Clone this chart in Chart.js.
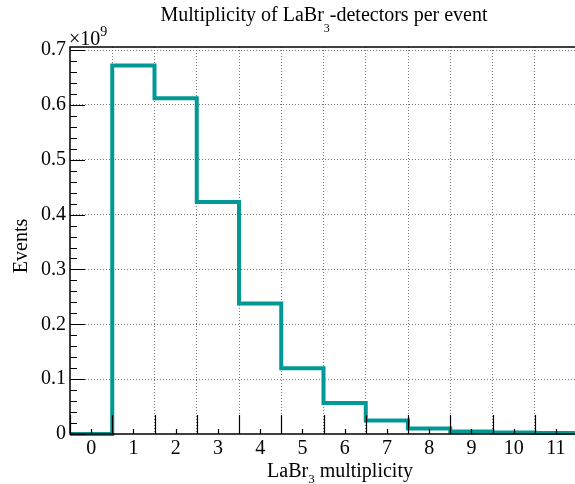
<!DOCTYPE html>
<html>
<head>
<meta charset="utf-8">
<script src="https://cdn.jsdelivr.net/npm/chart.js@4"></script>
<style>
    html, body { margin: 0; padding: 0; background: #fff; overflow: hidden; }
    #wrap { width: 575px; height: 484px; overflow: hidden; }
</style>
</head>
<body>
<div id="wrap"><canvas id="multChart" width="580" height="484"></canvas></div>
<script>
// LaBr3 multiplicity histogram, one bin per integer multiplicity
const multiplicity = [0, 1, 2, 3, 4, 5, 6, 7, 8, 9, 10, 11];
const events = [0, 672e6, 612e6, 423e6, 238e6, 120e6, 56.5e6, 24.8e6, 10.2e6, 4.5e6, 2.6e6, 1.6e6];
const yTickValues = [0, 1e8, 2e8, 3e8, 4e8, 5e8, 6e8, 7e8];
const yTickLabels = ["0", "0.1", "0.2", "0.3", "0.4", "0.5", "0.6", "0.7"];
const xTickLabels = ["0", "1", "2", "3", "4", "5", "6", "7", "8", "9", "10", "11"];

const SERIF = "'Liberation Serif', 'DejaVu Serif', serif";
const LINE_COLOR = "rgb(0, 153, 150)";

// step points: each bin's value starts at its lower edge; the last one is closed at its upper edge
const stepPoints = multiplicity.map((m, i) => ({ x: m - 0.5, y: events[i] }));
stepPoints.push({ x: multiplicity[multiplicity.length - 1] + 0.5, y: events[events.length - 1] });

const xMin = multiplicity[0] - 0.5;
const xMax = multiplicity[multiplicity.length - 1] + 0.5;
const yMax = 1.05 * Math.max(...events);

function isEdge(v) {
    return Math.abs(v - Math.round(v)) > 0.25;
}

// text pieces with a lowered / raised smaller digit
function drawSubText(ctx, parts, x, y, align) {
    const widths = parts.map((p) => {
        ctx.font = `${p.size}px ${SERIF}`;
        return ctx.measureText(p.text).width;
    });
    const total = widths.reduce((a, b) => a + b, 0);
    let cx = align === "center" ? x - total / 2 : x;
    parts.forEach((p, i) => {
        ctx.font = `${p.size}px ${SERIF}`;
        ctx.fillText(p.text, cx, y + (p.dy || 0));
        cx += widths[i];
    });
}

const rootStyle = {
    id: "rootStyle",
    afterDatasetsDraw(chart) {
        const { ctx, chartArea: a, scales } = chart;
        const xs = scales.x;
        const ys = scales.y;
        ctx.save();
        ctx.strokeStyle = "#000";
        ctx.lineWidth = 1.5;
        ctx.strokeRect(a.left, a.top, a.right - a.left, a.bottom - a.top);

        // inward ticks on the y axis, 4 minor ticks per major step
        ctx.lineWidth = 1.2;
        ctx.beginPath();
        for (let k = 0; k <= 35; k++) {
            const py = Math.round(ys.getPixelForValue(k * 2e7)) + 0.5;
            const len = k % 5 === 0 ? 15 : 7;
            ctx.moveTo(a.left, py);
            ctx.lineTo(a.left + len, py);
        }
        // x axis: long ticks on bin edges, short ticks on bin centres
        for (let v = xMin; v <= xMax + 0.01; v += 0.5) {
            const px = Math.round(xs.getPixelForValue(v)) + 0.5;
            const len = isEdge(v) ? 19 : 5;
            ctx.moveTo(px, a.bottom);
            ctx.lineTo(px, a.bottom - len);
        }
        ctx.stroke();

        ctx.fillStyle = "#000";
        ctx.textBaseline = "alphabetic";
        ctx.textAlign = "left";
        // title
        drawSubText(ctx, [
            { text: "Multiplicity of LaBr", size: 20 },
            { text: "3", size: 12, dy: 11 },
            { text: "-detectors per event", size: 20 },
        ], 324, 21, "center");
        // x title
        drawSubText(ctx, [
            { text: "LaBr", size: 20 },
            { text: "3", size: 13, dy: 6 },
            { text: " multiplicity", size: 20 },
        ], 340, 477, "center");
        // exponent
        drawSubText(ctx, [
            { text: "\u00d710", size: 20 },
            { text: "9", size: 14, dy: -9 },
        ], 69, 45, "left");
        // y title
        ctx.translate(27, 246);
        ctx.rotate(-Math.PI / 2);
        ctx.textAlign = "center";
        ctx.font = `20px ${SERIF}`;
        ctx.fillText("Events", 0, 0);
        ctx.restore();
    },
};

new Chart(document.getElementById("multChart"), {
    type: "line",
    data: {
        datasets: [
            {
                data: stepPoints,
                stepped: "before",
                borderColor: LINE_COLOR,
                borderWidth: 4,
                borderJoinStyle: "miter",
                borderCapStyle: "butt",
                pointRadius: 0,
                fill: false,
                clip: false,
            },
        ],
    },
    options: {
        responsive: false,
        animation: false,
        devicePixelRatio: 1,
        layout: { padding: { top: 47, left: 0, right: 0, bottom: 0 } },
        plugins: {
            legend: { display: false },
            tooltip: { enabled: false },
            title: { display: false },
        },
        scales: {
            x: {
                type: "linear",
                min: xMin,
                max: xMax,
                afterFit(scale) { scale.height = 50; },
                afterBuildTicks(scale) {
                    const t = [];
                    for (let v = xMin; v <= xMax + 0.01; v += 0.5) t.push({ value: v });
                    scale.ticks = t;
                },
                ticks: {
                    autoSkip: false,
                    maxRotation: 0,
                    padding: 3,
                    color: "#000",
                    font: { family: SERIF, size: 20 },
                    callback: (v) => (isEdge(v) ? "" : xTickLabels[multiplicity.indexOf(Math.round(v))]),
                },
                grid: {
                    drawTicks: false,
                    color: (c) => (c.tick && isEdge(c.tick.value) && c.tick.value > xMin ? "#777" : "rgba(0,0,0,0)"),
                    lineWidth: 1,
                },
                border: { display: false, dash: [1, 2] },
            },
            y: {
                type: "linear",
                min: 0,
                max: yMax,
                afterFit(scale) { scale.width = 70; },
                afterBuildTicks(scale) {
                    scale.ticks = yTickValues.map((v) => ({ value: v }));
                },
                ticks: {
                    padding: 4,
                    color: "#000",
                    font: { family: SERIF, size: 20 },
                    callback: (v, i) => yTickLabels[i],
                },
                grid: {
                    drawTicks: false,
                    color: (c) => (c.tick && c.tick.value > 0 ? "#777" : "rgba(0,0,0,0)"),
                    lineWidth: 1,
                },
                border: { display: false, dash: [1, 2] },
            },
        },
    },
    plugins: [rootStyle],
});
</script>
</body>
</html>
